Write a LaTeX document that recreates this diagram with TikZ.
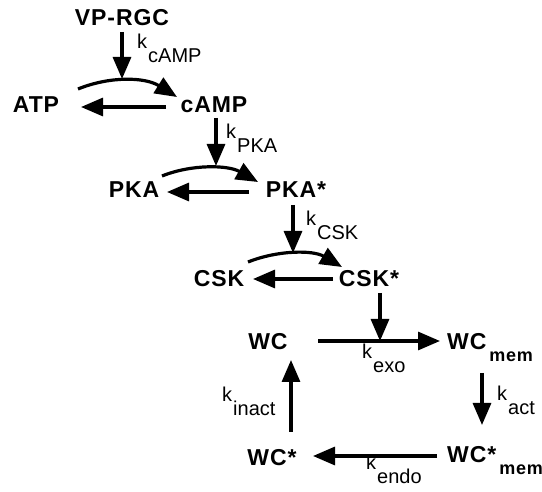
\documentclass[tikz,border=0pt]{standalone}
\usepackage{fontspec}
\setmainfont{Liberation Sans}
\newfontfamily\spfont{Liberation Sans}[LetterSpace=4]
\usetikzlibrary{arrows.meta}
\newcommand{\kk}[1]{k\hspace{1pt}\raisebox{-14pt}{#1}}
\newcommand{\mm}{\hspace{3pt}\raisebox{-12pt}{\fontsize{18}{18}\selectfont mem}}
\tikzset{
  sp/.style={font=\spfont\bfseries\fontsize{23}{23}\selectfont, inner sep=0pt, anchor=base},
  spw/.style={font=\spfont\bfseries\fontsize{23}{23}\selectfont, inner sep=0pt, anchor=base west},
  lb/.style={font=\fontsize{20}{20}\selectfont, inner sep=0pt, anchor=base west},
  arr/.style={line width=3.2pt, -{Triangle[length=22pt,width=18pt]}},
}
\begin{document}
\begin{tikzpicture}[x=1pt,y=-1pt]
\useasboundingbox (0,0) rectangle (542,492);
% species
\node[sp] (vp) at (122,26) {VP-RGC};
\node[sp] (atp) at (36,113) {ATP};
\node[sp] (camp) at (214,113) {cAMP};
\node[sp] (pka) at (134,198) {PKA};
\node[sp] (pkas) at (296,198) {PKA*};
\node[sp] (csk) at (219,287) {CSK};
\node[sp] (csks) at (369,287) {CSK*};
\node[sp] (wc) at (268,350) {WC};
\node[spw] (wcm) at (447,350) {WC\mm};
\node[spw] (wcsm) at (447,463) {WC*\mm};
\node[sp] (wcs) at (272,465) {WC*};
% labels
\node[lb] (l1) at (137,49) {\kk{cAMP}};
\node[lb] (l2) at (226,139) {\kk{PKA}};
\node[lb] (l3) at (306,226) {\kk{CSK}};
\node[lb] (l4) at (362,359) {\kk{exo}};
\node[lb] (l5) at (497,401) {\kk{act}};
\node[lb] (l6) at (366,470) {\kk{endo}};
\node[lb] (l7) at (222,402) {\kk{inact}};
% coordinates
\coordinate (a1s) at (122,32); \coordinate (a1e) at (122,79);
\coordinate (c1s) at (78,89); \coordinate (c1e) at (177,97);
\coordinate (b1s) at (166,107); \coordinate (b1e) at (81,107);
\coordinate (a2s) at (216,118); \coordinate (a2e) at (216,166);
\coordinate (c2s) at (162,176); \coordinate (c2e) at (258,182);
\coordinate (b2s) at (249,192); \coordinate (b2e) at (167,192);
\coordinate (a3s) at (293,205); \coordinate (a3e) at (293,253);
\coordinate (c3s) at (248,262); \coordinate (c3e) at (342,267);
\coordinate (b3s) at (333,279); \coordinate (b3e) at (253,279);
\coordinate (a4s) at (380,293); \coordinate (a4e) at (380,341);
\coordinate (h1s) at (318,341); \coordinate (h1e) at (440,341);
\coordinate (v1s) at (482,373); \coordinate (v1e) at (482,425);
\coordinate (h2s) at (437,456); \coordinate (h2e) at (313,456);
\coordinate (v2s) at (291,432); \coordinate (v2e) at (291,360);
% arrows
\draw[arr] (a1s) -- (a1e);
\draw[arr] (c1s) .. controls (110,76) and (145,77) .. (c1e);
\draw[arr] (b1s) -- (b1e);
\draw[arr] (a2s) -- (a2e);
\draw[arr] (c2s) .. controls (192,164) and (228,165) .. (c2e);
\draw[arr] (b2s) -- (b2e);
\draw[arr] (a3s) -- (a3e);
\draw[arr] (c3s) .. controls (278,250) and (313,250) .. (c3e);
\draw[arr] (b3s) -- (b3e);
\draw[arr] (a4s) -- (a4e);
\draw[arr] (h1s) -- (h1e);
\draw[arr] (v1s) -- (v1e);
\draw[arr] (h2s) -- (h2e);
\draw[arr] (v2s) -- (v2e);
\end{tikzpicture}
\end{document}
